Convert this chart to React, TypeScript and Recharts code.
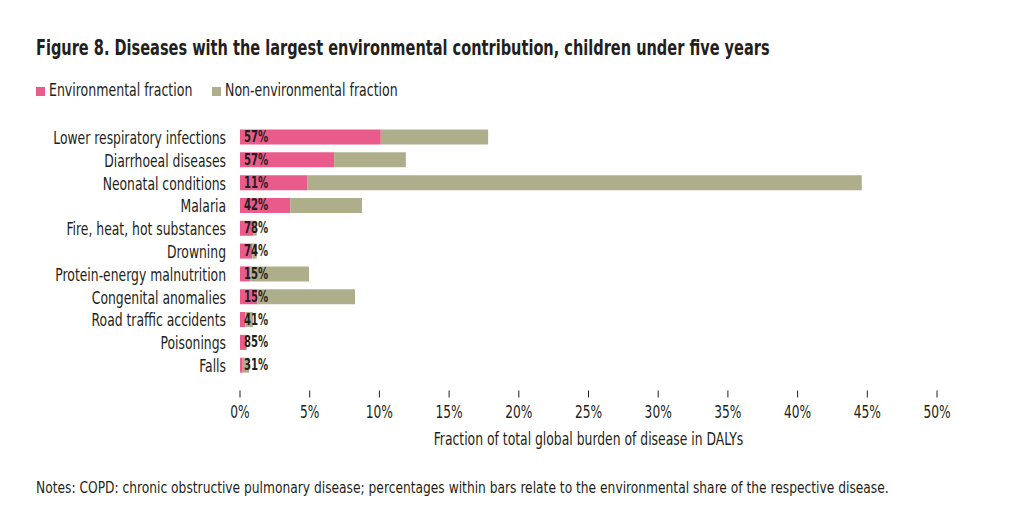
import { BarChart, Bar, XAxis, YAxis, LabelList } from "recharts"

const diseases = [
  "Lower respiratory infections",
  "Diarrhoeal diseases",
  "Neonatal conditions",
  "Malaria",
  "Fire, heat, hot substances",
  "Drowning",
  "Protein-energy malnutrition",
  "Congenital anomalies",
  "Road traffic accidents",
  "Poisonings",
  "Falls",
]
// fraction of total global burden (% of DALYs)
const environmental = [10.1, 6.75, 4.85, 3.6, 0.94, 0.88, 0.74, 1.24, 0.38, 0.43, 0.2]
const nonEnvironmental = [7.7, 5.15, 39.75, 5.15, 0.26, 0.32, 4.21, 7.01, 0.55, 0.07, 0.45]
const envShare = ["57%", "57%", "11%", "42%", "78%", "74%", "15%", "15%", "41%", "85%", "31%"]
const xTicks = [0, 5, 10, 15, 20, 25, 30, 35, 40, 45, 50]

const data = diseases.map((name, i) => ({
  name,
  env: environmental[i],
  nonEnv: nonEnvironmental[i],
  share: envShare[i],
}))

const font = "'DejaVu Sans Condensed', 'Liberation Sans', sans-serif"
const ink = "#231F20"
const pink = "#E95B8B"
const olive = "#AEAF8A"

// the reference uses a condensed face, so squeeze text horizontally
const squeeze = (sx: number) => ({
  transform: `scaleX(${sx})`,
  transformOrigin: "left center",
  whiteSpace: "nowrap" as const,
})

const XTick = (props: any) => {
  const { x, y, payload } = props
  // y here already includes tickSize + tickMargin (8px)
  return (
    <g>
      <line x1={x} x2={x} y1={y + 6} y2={y + 13} stroke={ink} strokeWidth={1} />
      <text
        transform={`translate(${x},${y + 33}) scale(0.8,1)`}
        textAnchor="middle"
        fontSize={17}
        fill={ink}
        fontFamily={font}
      >
        {payload.value}%
      </text>
    </g>
  )
}

const YTick = (props: any) => {
  const { x, y, payload } = props
  return (
    <text
      transform={`translate(${x},${y + 7}) scale(0.81,1)`}
      textAnchor="end"
      fontSize={17}
      fill={ink}
      fontFamily={font}
    >
      {payload.value}
    </text>
  )
}

const ShareLabel = (props: any) => {
  const { x, y, height, value } = props
  return (
    <text
      transform={`translate(${x + 4},${y + height / 2 + 5}) scale(0.75,1)`}
      fontSize={15}
      fontWeight="bold"
      fill={ink}
      fontFamily={font}
    >
      {value}
    </text>
  )
}

const AxisTitle = (props: any) => {
  const { viewBox } = props
  const cx = viewBox.x + viewBox.width / 2
  return (
    <text
      transform={`translate(${cx},${viewBox.y + 68}) scale(0.81,1)`}
      textAnchor="middle"
      fontSize={17}
      fill={ink}
      fontFamily={font}
    >
      Fraction of total global burden of disease in DALYs
    </text>
  )
}

export default function App() {
  return (
    <div style={{ position: "relative", width: 1012, height: 529, margin: -8, background: "#fff", fontFamily: font, color: ink }}>
      <div style={{ position: "absolute", left: 36, top: 35, fontSize: 22, fontWeight: "bold", ...squeeze(0.735) }}>
        Figure 8. Diseases with the largest environmental contribution, children under five years
      </div>
      <span style={{ position: "absolute", left: 36, top: 87, width: 9, height: 9, background: pink }} />
      <div style={{ position: "absolute", left: 49, top: 80, fontSize: 17, ...squeeze(0.82) }}>Environmental fraction</div>
      <span style={{ position: "absolute", left: 212, top: 87, width: 9, height: 9, background: olive }} />
      <div style={{ position: "absolute", left: 225, top: 80, fontSize: 17, ...squeeze(0.82) }}>Non-environmental fraction</div>
      <div style={{ position: "absolute", left: 0, top: 0 }}>
        <BarChart
          width={1012}
          height={470}
          data={data}
          layout="vertical"
          barSize={15}
          margin={{ top: 125.5, right: 75, left: 0, bottom: 23.5 }}
        >
          <XAxis
            type="number"
            domain={[0, 50]}
            ticks={xTicks}
            axisLine={false}
            tickLine={false}
            tick={<XTick />}
            height={70}
            label={<AxisTitle />}
          />
          <YAxis
            type="category"
            dataKey="name"
            width={240}
            axisLine={false}
            tickLine={false}
            tickSize={0}
            tickMargin={14}
            interval={0}
            tick={<YTick />}
          />
          <Bar dataKey="env" stackId="a" fill={pink} isAnimationActive={false}>
            <LabelList dataKey="share" content={<ShareLabel />} />
          </Bar>
          <Bar dataKey="nonEnv" stackId="a" fill={olive} isAnimationActive={false} />
        </BarChart>
      </div>
      <div style={{ position: "absolute", left: 36, top: 478, fontSize: 16, ...squeeze(0.852) }}>
        Notes: COPD: chronic obstructive pulmonary disease; percentages within bars relate to the environmental share of the respective disease.
      </div>
    </div>
  )
}
